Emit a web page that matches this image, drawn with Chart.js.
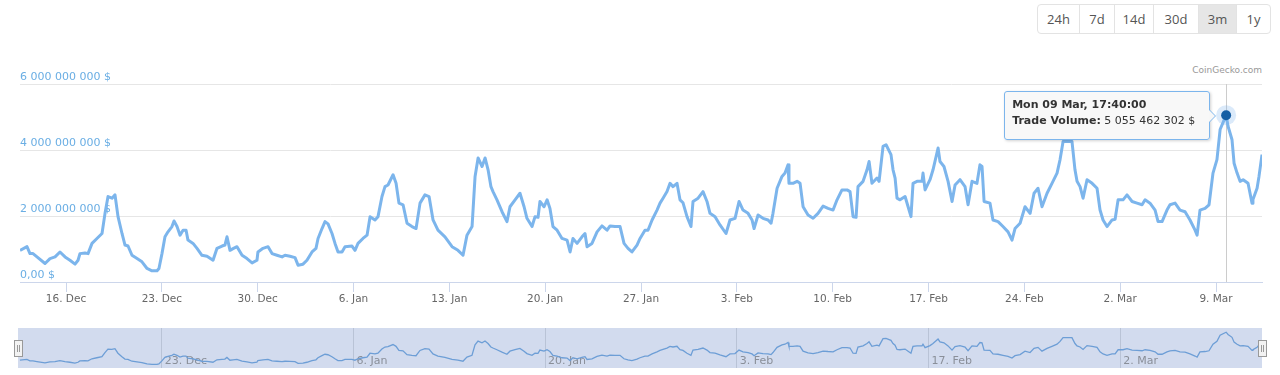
<!DOCTYPE html>
<html>
<head>
<meta charset="utf-8">
<script src="https://cdn.jsdelivr.net/npm/chart.js@4.4.1/dist/chart.umd.min.js"></script>
<style>
html, body { margin:0; padding:0; background:#fff; }
body { width:1280px; height:375px; position:relative; overflow:hidden; font-family:'DejaVu Sans', sans-serif; }
#ranges { position:absolute; left:1037px; top:4px; height:30px; box-sizing:border-box; display:flex; border:1px solid #e3e3e3; border-radius:4px; overflow:hidden; font-family:'Open Sans', sans-serif; font-size:13px; color:#555; }
#ranges div { box-sizing:border-box; height:28px; line-height:28px; text-align:center; border-left:1px solid #e3e3e3; }
#ranges div:first-child { border-left:none; }
#ranges .on { background:#e6e6e6; }
#credit { position:absolute; right:18px; top:65px; font-size:9px; color:#999; }
#main { position:absolute; left:0; top:0; }
#navbox { position:absolute; left:18px; top:328px; width:1244px; height:40px; background:#d2dbee; }
#nav { position:absolute; left:0; top:0; }
.handle { position:absolute; top:340px; width:7px; height:15px; background:#f2f2f2; border:1px solid #999; }
.handle i { position:absolute; left:2px; top:4px; width:1px; height:7px; border-left:1px solid #999; border-right:1px solid #999; }
#tip { position:absolute; display:none; box-sizing:border-box; width:206px; height:49px; background:rgba(247,247,247,0.92); border:1px solid #7cb5ec; border-radius:3px; box-shadow:1px 1px 3px rgba(0,0,0,0.18); font:11px 'DejaVu Sans', sans-serif; color:#333; padding:5px 0 0 7px; line-height:16px; white-space:nowrap; }
#tip:before, #tip:after { content:''; position:absolute; top:50%; border-style:solid; width:0; height:0; }
#tip:before { right:-7px; margin-top:-7px; border-width:7px 0 7px 7px; border-color:transparent transparent transparent #7cb5ec; }
#tip:after { right:-6px; margin-top:-6px; border-width:6px 0 6px 6px; border-color:transparent transparent transparent #f7f7f7; }
</style>
</head>
<body>
<div id="ranges">
  <div style="width:41px">24h</div><div style="width:35px">7d</div><div style="width:39px">14d</div><div style="width:45px">30d</div><div class="on" style="width:38px">3m</div><div style="width:34px">1y</div>
</div>
<div id="credit">CoinGecko.com</div>
<canvas id="main" width="1280" height="310"></canvas>
<div id="navbox"><canvas id="nav" width="1244" height="40"></canvas></div>
<div class="handle" style="left:14px"><i></i></div>
<div class="handle" style="left:1258px"><i></i></div>
<div id="tip"></div>
<script>
// dias desde el 16 dic 2019 (00:00) y volumen en miles de millones de $
var days = [
  -3.36,-2.85,-2.63,-2.41,-2.12,-1.53,-1.17,-0.80,-0.44,-0.07,0.29,0.66,0.88,1.02,1.39,1.61,1.90,2.26,2.63,2.85,
  3.07,3.36,3.58,3.80,4.09,4.31,4.53,4.82,5.19,5.55,5.92,6.28,6.65,6.79,7.01,7.23,7.45,7.74,7.89,8.11,
  8.33,8.55,8.77,8.91,9.28,9.57,9.93,10.30,10.74,11.03,11.40,11.61,11.76,11.98,12.20,12.49,12.86,13.22,13.59,13.95,
  14.02,14.39,14.76,15.05,15.41,15.78,16.00,16.36,16.73,16.95,17.31,17.60,17.97,18.26,18.41,18.70,18.92,19.14,19.43,19.65,
  19.87,20.16,20.38,20.89,21.11,21.33,21.69,21.99,22.21,22.57,22.79,23.08,23.30,23.52,23.89,24.11,24.32,24.62,24.91,25.27,
  25.57,25.86,26.22,26.52,26.81,27.17,27.68,28.20,28.63,29.00,29.29,29.66,29.88,30.10,30.39,30.61,30.83,31.04,31.19,31.48,
  31.85,32.21,32.43,32.80,33.16,33.46,33.67,34.04,34.26,34.48,34.62,34.92,35.14,35.35,35.57,35.87,36.23,36.60,36.82,37.03,
  37.33,37.69,37.91,38.06,38.42,38.79,39.15,39.52,39.74,40.10,40.47,40.76,41.05,41.34,41.71,41.93,42.29,42.51,42.81,43.17,
  43.39,43.61,43.90,44.12,44.34,44.63,44.85,45.07,45.36,45.65,45.80,46.17,46.53,46.82,47.04,47.41,47.77,48.21,48.50,48.87,
  49.16,49.45,49.82,50.11,50.26,50.55,50.91,51.28,51.50,51.64,51.94,52.30,52.52,52.74,52.81,53.10,53.40,53.62,53.84,54.20,
  54.57,54.93,55.30,55.66,56.03,56.32,56.68,57.05,57.27,57.49,57.71,57.85,58.22,58.51,58.66,58.87,59.24,59.39,59.68,59.90,
  60.26,60.41,60.56,60.70,60.92,61.29,61.51,61.72,61.87,62.16,62.53,62.60,62.75,63.11,63.33,63.70,63.84,64.13,64.43,64.72,
  64.94,65.30,65.67,65.89,66.18,66.54,66.76,66.91,67.06,67.49,67.71,68.08,68.44,68.81,69.10,69.32,69.69,70.05,70.42,70.71,
  71.00,71.29,71.66,72.02,72.39,72.61,72.83,73.19,73.48,73.70,73.85,74.07,74.29,74.58,74.95,75.31,75.53,75.75,76.04,76.41,
  76.63,76.85,77.21,77.50,77.87,78.23,78.60,78.82,79.18,79.55,79.77,80.06,80.42,80.64,81.01,81.37,81.74,82.10,82.47,82.62,
  82.83,83.20,83.49,83.78,84.07,84.30,84.74,84.88,85.17,85.32,85.54,85.76,85.98,86.34,86.63,86.70,87.00,87.14,87.36
];
var volumes = [
  0.96,1.07,0.86,0.86,0.76,0.56,0.71,0.76,0.91,0.76,0.66,0.54,0.66,0.86,0.88,0.86,1.17,1.32,1.47,2.08,
  2.59,2.54,2.64,1.98,1.47,1.12,1.09,0.81,0.71,0.61,0.41,0.34,0.34,0.41,0.86,1.37,1.52,1.68,1.85,1.68,
  1.42,1.57,1.57,1.27,1.17,1.02,0.81,0.78,0.66,1.02,1.09,1.12,1.37,0.96,1.01,1.07,0.81,0.71,0.58,0.66,
  0.91,1.02,1.07,0.86,0.81,0.76,0.81,0.78,0.74,0.51,0.54,0.66,0.91,1.02,1.32,1.62,1.83,1.76,1.47,1.17,
  0.91,0.91,1.07,1.09,0.96,1.17,1.32,1.42,1.98,1.88,1.98,2.59,2.89,2.94,3.25,2.99,2.39,2.34,1.78,1.68,
  1.62,2.39,2.64,2.59,1.88,1.57,1.37,1.07,0.96,0.81,1.42,1.68,3.20,3.76,3.50,3.76,3.40,2.89,2.74,2.49,
  2.13,1.83,2.28,2.49,2.69,2.28,1.93,1.68,1.98,1.96,2.44,2.28,2.49,2.23,1.68,1.57,1.32,1.27,0.91,1.32,
  1.17,1.37,1.47,1.07,1.17,1.52,1.70,1.57,1.70,1.68,1.68,1.17,1.02,0.91,1.12,1.32,1.57,1.57,1.88,2.18,
  2.39,2.54,2.74,2.99,2.89,2.99,2.49,2.40,1.98,1.68,2.44,2.54,2.74,2.44,2.08,1.98,1.73,1.47,1.88,1.93,
  2.44,2.18,2.08,1.88,1.62,2.03,1.93,1.88,1.78,2.08,2.84,3.20,3.30,3.55,2.99,2.99,3.05,2.99,2.28,2.03,
  1.93,2.08,2.30,2.23,2.18,2.49,2.79,2.79,2.74,1.98,1.96,2.89,3.05,3.40,3.65,2.99,3.15,3.05,4.11,4.16,
  3.86,3.40,3.15,2.54,2.49,2.59,2.28,1.98,2.99,3.05,3.05,3.30,2.79,3.10,3.40,4.06,3.65,3.50,3.05,2.44,
  2.94,3.10,2.89,2.34,3.05,2.99,3.55,3.50,2.44,2.39,1.88,1.83,1.68,1.52,1.27,1.62,1.78,2.28,2.08,2.69,
  2.84,2.28,2.69,2.99,3.30,3.71,4.26,4.26,4.26,3.40,3.05,2.89,2.54,3.10,2.99,2.84,2.18,1.88,1.68,1.88,
  1.90,2.49,2.49,2.64,2.44,2.39,2.34,2.49,2.39,2.18,1.83,1.83,2.18,2.34,2.39,2.18,2.13,1.88,1.57,1.42,
  2.18,2.23,2.34,3.30,3.71,4.62,5.055462302,4.72,4.31,3.60,3.30,3.05,3.10,2.99,2.39,2.50,2.84,3.20,3.86
];

var tickDays = [0, 7, 14, 21, 28, 35, 42, 49, 56, 63, 70, 77, 84];
var tickLabels = ['16. Dec','23. Dec','30. Dec','6. Jan','13. Jan','20. Jan','27. Jan','3. Feb','10. Feb','17. Feb','24. Feb','2. Mar','9. Mar'];
var yTicks = [0, 2e9, 4e9, 6e9];
var yTickLabels = ['0,00 $', '2 000 000 000 $', '4 000 000 000 $', '6 000 000 000 $'];
var navDays = [7, 21, 35, 49, 63, 77];
var navLabels = ['23. Dec','6. Jan','20. Jan','3. Feb','17. Feb','2. Mar'];

var seriesName = 'Trade Volume';
var hoverDay = 84.74;
var hoverTitle = 'Mon 09 Mar, 17:40:00';

var puntos = days.map(function(d, i){ return {x: d, y: volumes[i] * 1e9}; });
var hoverIndex = days.indexOf(hoverDay);
var radios = days.map(function(d, i){ return i === hoverIndex ? 5 : 0; });

function formatoDolar(v){
  return String(Math.round(v)).replace(/\B(?=(\d{3})+(?!\d))/g, ' ') + ' $';
}

function mostrarTip(context){
  var tt = context.tooltip;
  var el = document.getElementById('tip');
  if (tt.opacity === 0 || !tt.dataPoints || !tt.dataPoints.length) { el.style.display = 'none'; return; }
  var dp = tt.dataPoints[0];
  el.innerHTML = '<b>' + tt.title[0] + '</b><br><b>' + dp.dataset.label + ':</b> ' + formatoDolar(dp.parsed.y);
  el.style.display = 'block';
  el.style.left = (tt.caretX - 16 - 206) + 'px';
  el.style.top = (tt.caretY - 24) + 'px';
}

// linea vertical del punto seleccionado
var crosshair = {
  id: 'crosshair',
  beforeDatasetsDraw: function(chart){
    var x = chart.scales.x.getPixelForValue(hoverDay);
    var ctx = chart.ctx;
    ctx.save();
    ctx.strokeStyle = '#cccccc';
    ctx.lineWidth = 1;
    ctx.beginPath();
    ctx.moveTo(Math.round(x) + 0.5, chart.chartArea.top);
    ctx.lineTo(Math.round(x) + 0.5, chart.chartArea.bottom);
    ctx.stroke();
    ctx.restore();
  }
};

var chart = new Chart(document.getElementById('main'), {
  type: 'line',
  data: {
    datasets: [
      {
        label: seriesName,
        data: puntos,
        borderColor: '#7cb5ec',
        borderWidth: 3,
        borderJoinStyle: 'round',
        pointRadius: radios,
        pointBackgroundColor: '#145ea4',
        pointBorderWidth: 0,
        tension: 0,
        order: 0
      },
      {
        label: 'halo',
        data: [puntos[hoverIndex]],
        showLine: false,
        pointRadius: 10,
        pointBackgroundColor: 'rgba(124,181,236,0.28)',
        pointBorderWidth: 0,
        order: 1
      }
    ]
  },
  plugins: [crosshair],
  options: {
    responsive: false,
    animation: false,
    events: [],
    layout: { padding: {left: 20, right: 18, top: 84, bottom: 0}, autoPadding: false },
    plugins: {
      legend: { display: false },
      tooltip: {
        enabled: false,
        animation: false,
        external: mostrarTip,
        filter: function(item){ return item.datasetIndex === 0; },
        callbacks: { title: function(){ return hoverTitle; } }
      }
    },
    scales: {
      x: {
        type: 'linear',
        min: -3.36,
        max: 87.36,
        afterFit: function(s){ s.height = 28; },
        afterBuildTicks: function(s){ s.ticks = tickDays.map(function(v){ return {value: v}; }); },
        grid: { drawOnChartArea: false, drawTicks: true, tickLength: 10, color: '#ccd6eb' },
        border: { color: '#ccd6eb' },
        ticks: {
          autoSkip: false, maxRotation: 0, padding: 1, color: '#666',
          font: { family: 'DejaVu Sans', size: 10.5 },
          callback: function(v){ return tickLabels[tickDays.indexOf(v)]; }
        }
      },
      y: {
        min: 0,
        max: 6e9,
        afterFit: function(s){ s.width = 0; },
        afterBuildTicks: function(s){ s.ticks = yTicks.map(function(v){ return {value: v}; }); },
        grid: { color: '#e6e6e6', drawTicks: false },
        border: { display: false },
        ticks: {
          mirror: true, padding: 0, labelOffset: -7, color: '#6aaee4',
          font: { family: 'DejaVu Sans', size: 11 },
          callback: function(v){ return yTickLabels[yTicks.indexOf(v)]; }
        }
      }
    }
  }
});

var meta = chart.getDatasetMeta(0);
var pt = meta.data[hoverIndex];
chart.tooltip.setActiveElements([{datasetIndex: 0, index: hoverIndex}], {x: pt.x, y: pt.y});

// navegador inferior
new Chart(document.getElementById('nav'), {
  type: 'line',
  data: {
    datasets: [{
      data: puntos,
      borderColor: '#6d9ed6',
      borderWidth: 1.3,
      pointRadius: 0,
      tension: 0
    }]
  },
  options: {
    responsive: false,
    animation: false,
    events: [],
    layout: { padding: 0, autoPadding: false },
    plugins: { legend: { display: false }, tooltip: { enabled: false } },
    scales: {
      x: {
        type: 'linear',
        min: -3.5,
        max: 87.36,
        afterFit: function(s){ s.height = 0; },
        afterBuildTicks: function(s){ s.ticks = navDays.map(function(v){ return {value: v}; }); },
        grid: { color: '#b9c3d6', drawTicks: false },
        border: { display: false },
        ticks: {
          mirror: true, align: 'start', labelOffset: 3, padding: 0, autoSkip: false, maxRotation: 0,
          color: '#8a8f99', font: { family: 'DejaVu Sans', size: 11 },
          callback: function(v){ return navLabels[navDays.indexOf(v)]; }
        }
      },
      y: { display: false, min: -0.18e9, max: 5.67e9 }
    }
  }
});
</script>
</body>
</html>
